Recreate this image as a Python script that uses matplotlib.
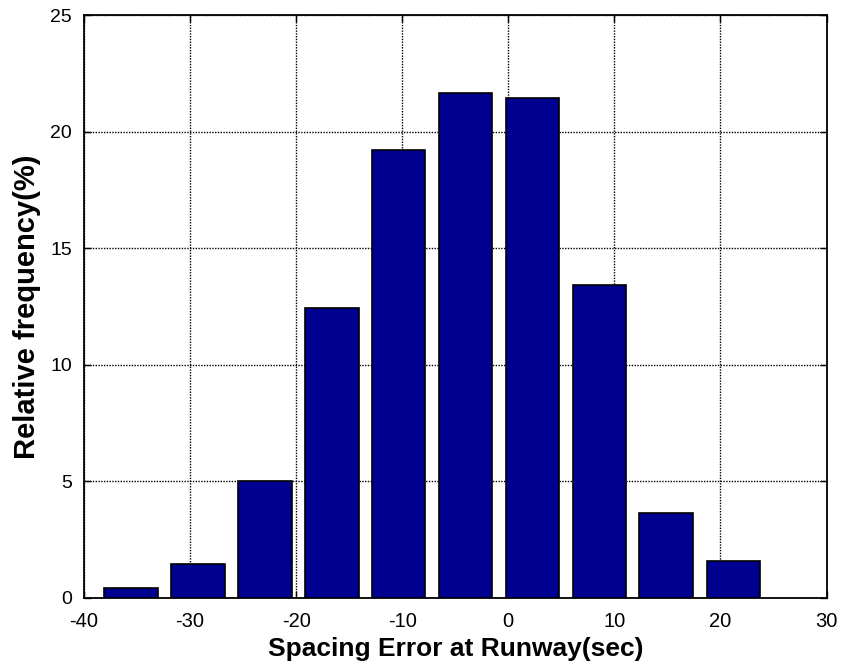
import matplotlib
matplotlib.use("Agg")
import matplotlib.pyplot as plt
import numpy as np

plt.rcParams['font.family'] = ['Liberation Sans', 'DejaVu Sans']

# Histogram bin centres (seconds) and relative frequency (%)
bin_centers = [-35.58, -29.27, -22.96, -16.65, -10.34, -4.03, 2.28, 8.59, 14.90, 21.22]
rel_freq = [0.43, 1.46, 5.03, 12.43, 19.22, 21.64, 21.42, 13.43, 3.65, 1.60]
bar_width = 5.06

x_ticks = [-40, -30, -20, -10, 0, 10, 20, 30]
y_ticks = [0, 5, 10, 15, 20, 25]

fig = plt.figure(figsize=(8.42, 6.70), dpi=100)
ax = fig.add_axes([84 / 842, 1 - 598 / 670, (826.5 - 84) / 842, (598 - 15) / 670])

ax.bar(bin_centers, rel_freq, width=bar_width, color='#000090',
       edgecolor='black', linewidth=1.2, zorder=3)

ax.set_xlim(-40, 30)
ax.set_ylim(0, 25)
ax.set_xticks(x_ticks)
ax.set_yticks(y_ticks)
ax.set_xticklabels([str(t) for t in x_ticks])
ax.set_yticklabels([str(t) for t in y_ticks])

ax.grid(True, color='black', linestyle=(0, (1, 1)), linewidth=1.0, zorder=0)
ax.set_axisbelow(True)

ax.tick_params(direction='in', length=5, width=1, top=True, right=True)
ax.tick_params(axis='x', pad=10, labelsize=14.5)
ax.tick_params(axis='y', pad=8.5, labelsize=14)
for sp in ax.spines.values():
    sp.set_linewidth(1.3)

ax.set_xlabel('Spacing Error at Runway(sec)', fontsize=19, fontweight='bold', labelpad=4.5)
ax.set_ylabel('Relative frequency(%)', fontsize=21, fontweight='bold', labelpad=7)

fig.savefig('out.png', dpi=100)
